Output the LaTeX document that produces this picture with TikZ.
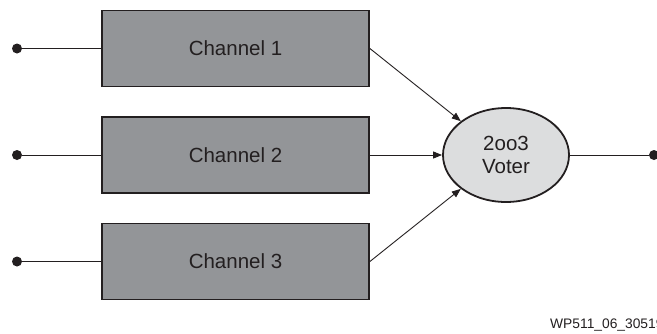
\documentclass[tikz,border=0pt]{standalone}
\usepackage{fontspec}
\setmainfont{Liberation Sans}
\usetikzlibrary{arrows.meta,shapes.geometric}
\definecolor{boxgray}{HTML}{939598}
\definecolor{votergray}{HTML}{DCDDDE}
\definecolor{ink}{HTML}{231F20}
\tikzset{
  chanbox/.style={draw=ink, line width=1.8bp, fill=boxgray, minimum width=267bp,
    minimum height=76bp, inner sep=0pt, text=ink,
    font=\fontsize{20.5bp}{24bp}\selectfont},
  voterbox/.style={draw=ink, line width=1.8bp, fill=votergray, ellipse,
    minimum width=126bp, minimum height=94bp, inner sep=0pt, text=ink, align=center,
    font=\fontsize{20.5bp}{23bp}\selectfont},
  term/.style={circle, fill=ink, minimum size=10bp, inner sep=0pt},
  wire/.style={draw=ink, line width=0.9bp},
  feed/.style={wire, -{Triangle[length=9bp, width=7bp]}}
}
\begin{document}
\begin{tikzpicture}[x=1bp, y=-1bp]
  \useasboundingbox (0,0) rectangle (657,333);
  % three redundant channels
  \node[chanbox] (c1) at (235.5,48.5) {Channel 1};
  \node[chanbox] (c2) at (235.5,155) {Channel 2};
  \node[chanbox] (c3) at (235.5,261.5) {Channel 3};
  % majority voter
  \node[voterbox] (v) at (506,155) {2oo3\\Voter};
  % input and output terminals
  \node[term] (i1) at (17,48.5) {};
  \node[term] (i2) at (17,155) {};
  \node[term] (i3) at (17,261.5) {};
  \node[term] (o) at (654,155) {};
  \draw[wire] (i1) -- (c1);
  \draw[wire] (i2) -- (c2);
  \draw[wire] (i3) -- (c3);
  \draw[wire] (v) -- (o);
  % channel outputs into the voter
  \draw[feed] (c1.east) -- (v.north west);
  \draw[feed] (c2.east) -- (v.west);
  \draw[feed] (c3.east) -- (v.south west);
  \node[anchor=west, text=ink, inner sep=0pt, font=\fontsize{13.8bp}{15bp}\selectfont] (fig) at (550,325) {WP511\_06\_30519};
\end{tikzpicture}
\end{document}
